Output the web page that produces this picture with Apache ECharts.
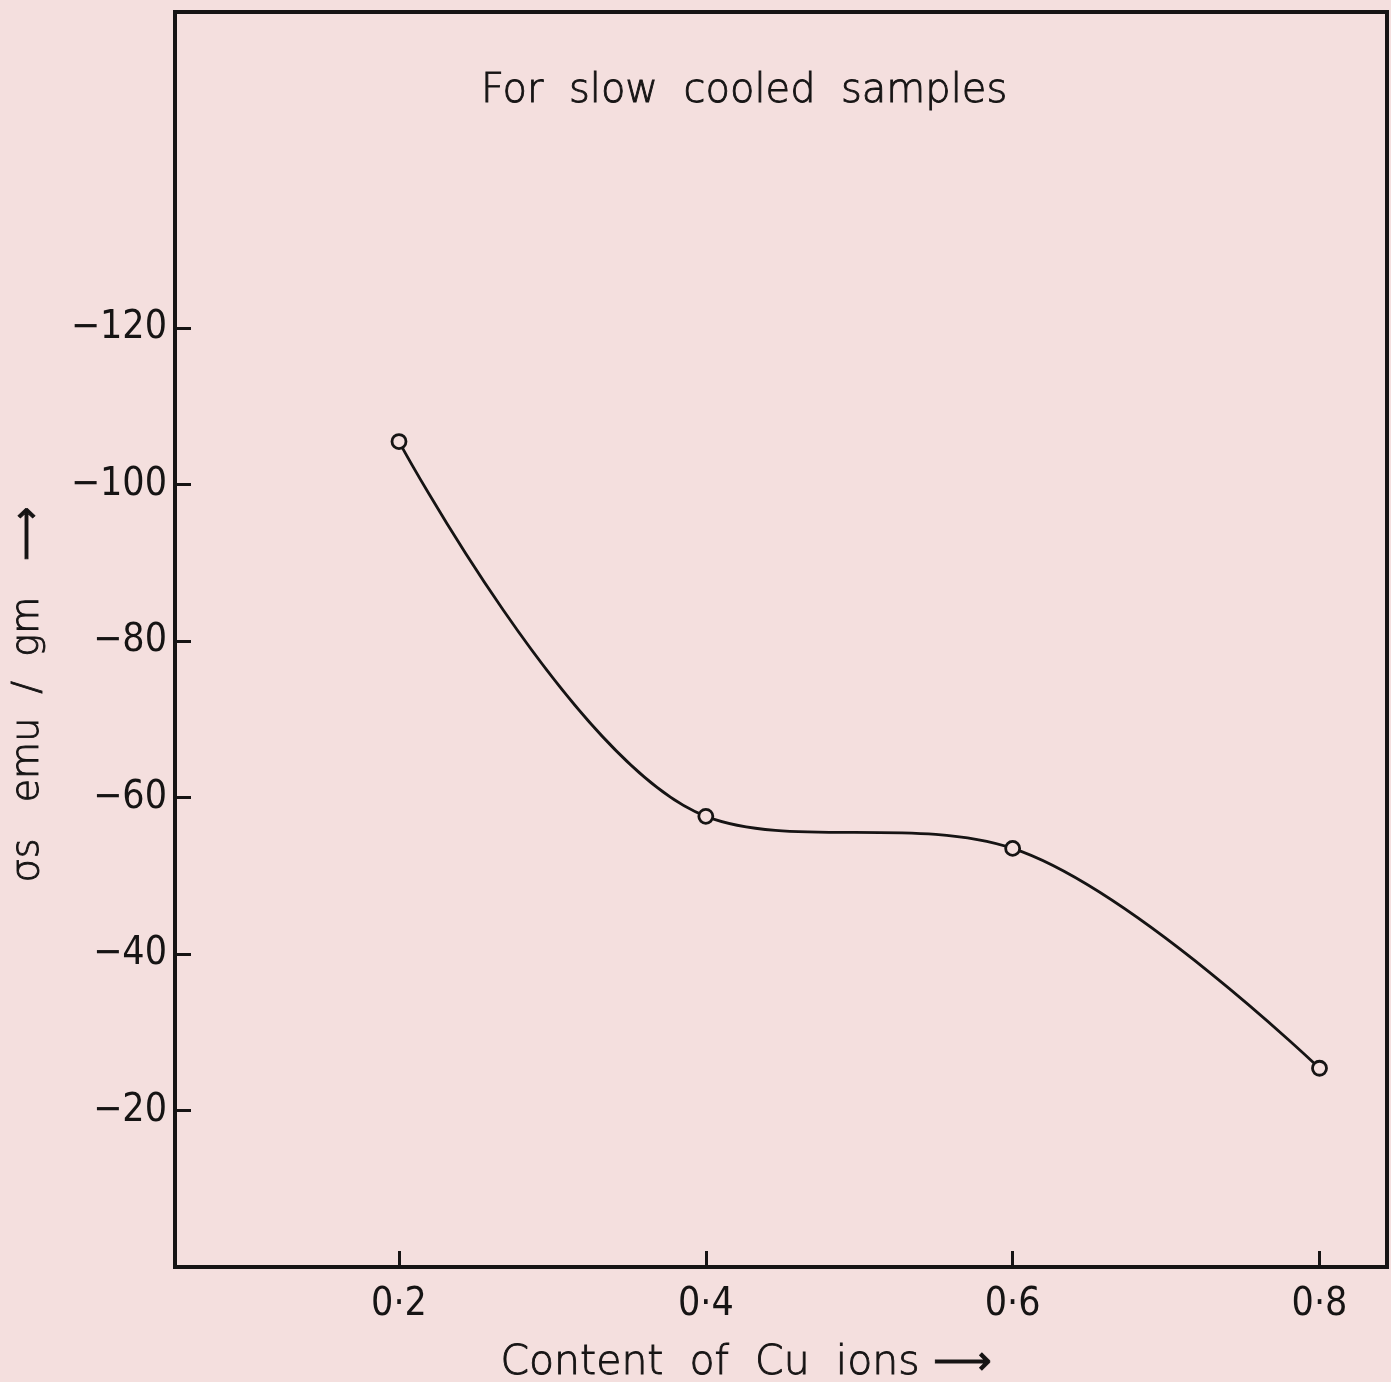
<!DOCTYPE html>
<html>
<head>
<meta charset="utf-8">
<script src="https://cdn.jsdelivr.net/npm/echarts@6/dist/echarts.min.js"></script>
<style>
html,body{margin:0;padding:0;background:#f4dfde;}
#chart{width:1391px;height:1382px;}
</style>
</head>
<body>
<div id="chart"></div>
<script>
// Data
const cuContent = [0.2, 0.4, 0.6, 0.8];
const sigmaS = [-105.5, -57.6, -53.5, -25.4];
const xTickValues = [0.2, 0.4, 0.6, 0.8];
const xTickLabels = ['0·2', '0·4', '0·6', '0·8'];
const yTickValues = [-120, -100, -80, -60, -40, -20];
const yTickLabels = ['−120', '−100', '−80', '−60', '−40', '−20'];

const NUM_FONT = '"Liberation Sans Narrow", "DejaVu Sans Condensed", "Liberation Sans", sans-serif';
const TXT_FONT = '"DejaVu Sans", "Noto Sans", sans-serif';
const INK = '#161414';
const BG = '#f4dfde';
const txtStyle = (size) => ({fontFamily: TXT_FONT, fontSize: size, fontWeight: 200, color: INK,
  textBorderColor: INK, textBorderWidth: 0.9});

const chart = echarts.init(document.getElementById('chart'), null, {renderer: 'canvas'});
chart.setOption({
  backgroundColor: BG,
  animation: false,
  title: {
    text: 'For  slow  cooled  samples',
    left: 476, top: 67,
    textStyle: txtStyle(40)
  },
  grid: {
    left: 175, right: 4, top: 12, bottom: 115,
    outerBoundsMode: 'none', containLabel: false,
    show: true, borderColor: INK, borderWidth: 4, backgroundColor: 'transparent'
  },
  xAxis: {
    type: 'value', min: 0.054, max: 0.844,
    name: 'Content  of  Cu  ions ⟶',
    nameLocation: 'middle', nameGap: 76,
    nameTextStyle: Object.assign(txtStyle(41), {padding: [0, 70, 0, 0]}),
    axisLine: {show: false},
    splitLine: {show: false},
    axisTick: {show: true, inside: true, length: 16, customValues: xTickValues,
      lineStyle: {color: INK, width: 3}},
    axisLabel: {customValues: xTickValues, margin: 18,
      formatter: v => xTickLabels[xTickValues.findIndex(t => Math.abs(t - v) < 1e-9)] || '',
      fontFamily: NUM_FONT, fontSize: 39, color: INK}
  },
  yAxis: {
    type: 'value', min: -160.4, max: 0, inverse: true,
    name: 'σs   emu  /  gm   ⟶',
    nameLocation: 'middle', nameGap: 128,
    nameTextStyle: Object.assign(txtStyle(38), {padding: [0, 110, 0, 0]}),
    axisLine: {show: false},
    splitLine: {show: false},
    axisTick: {show: true, inside: true, length: 16, customValues: yTickValues,
      lineStyle: {color: INK, width: 3}},
    axisLabel: {customValues: yTickValues, margin: 8,
      formatter: v => yTickLabels[yTickValues.findIndex(t => Math.abs(t - v) < 1e-9)] || '',
      fontFamily: NUM_FONT, fontSize: 39, color: INK}
  },
  series: [{
    type: 'line',
    data: cuContent.map((x, i) => [x, sigmaS[i]]),
    smooth: 0.35,
    symbol: 'circle', symbolSize: 14,
    itemStyle: {color: BG, borderColor: INK, borderWidth: 2.8},
    lineStyle: {color: INK, width: 2.8}
  }]
});
</script>
</body>
</html>
